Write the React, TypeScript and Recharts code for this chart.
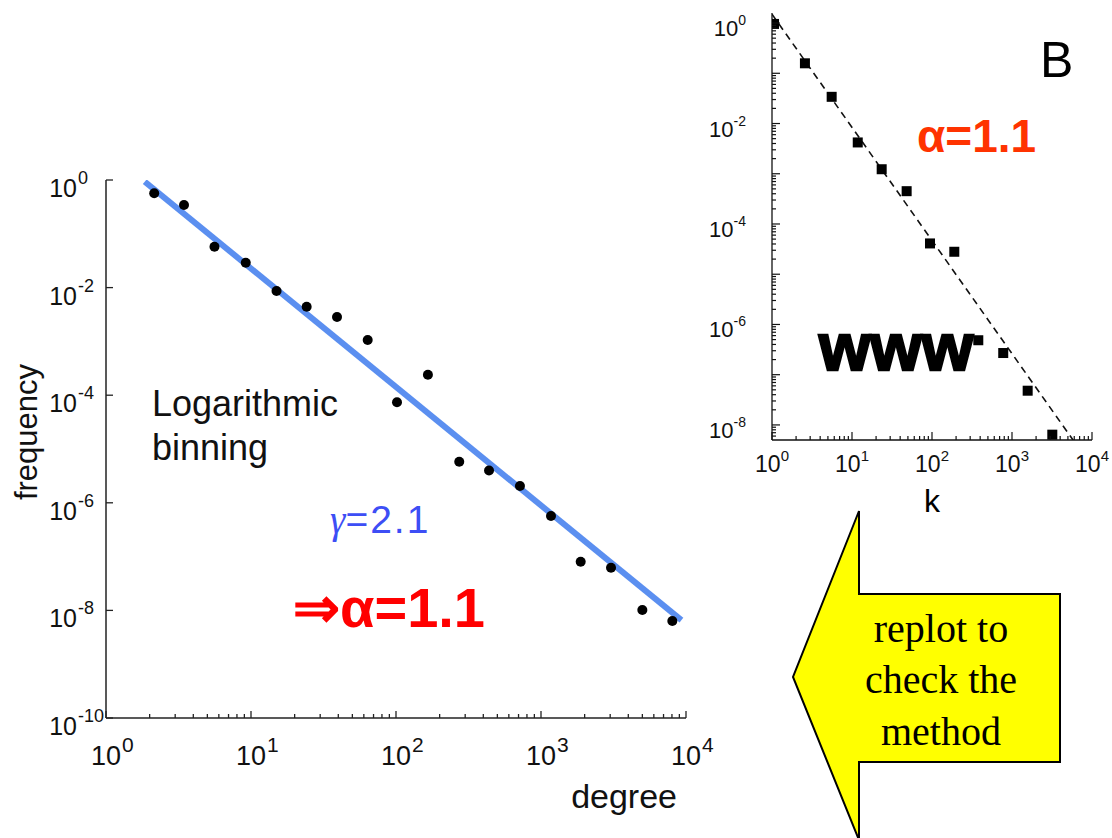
import React from 'react';
import { ScatterChart, Scatter, XAxis, YAxis } from 'recharts';

// left panel: logarithmic binning
const mainDegree = [2.15, 3.45, 5.6, 9.2, 15.0, 24.2, 39.2, 63.8, 101.6, 166, 273, 438, 716, 1172, 1878, 3040, 5000, 8050];
const mainFrequency = [0.566, 0.343, 0.0575, 0.029, 0.00865, 0.00442, 0.00284, 0.00106, 7.4e-5, 2.4e-4, 5.8e-6, 3.97e-6, 2.05e-6, 5.7e-7, 8.05e-8, 6.2e-8, 1.02e-8, 6.35e-9];
const gammaFitDegree = [1.85, 9300];
const gammaFitFrequency = [0.93, 6.6e-9];

// inset: www (panel B)
const wwwK = [1.06, 2.58, 5.57, 11.8, 23.5, 48.2, 94.4, 190, 379, 777, 1570, 3190];
const wwwP = [0.96, 0.158, 0.034, 0.0042, 0.00123, 4.5e-4, 4.1e-5, 2.8e-5, 4.85e-7, 2.7e-7, 4.8e-8, 6.4e-9];
const wwwFitK = [1, 5800];
const wwwFitP = [1.5, 5.0e-9];

// tick labels (powers of ten)
const mainXDecades = [1, 10, 100, 1000, 10000];
const mainYDecades = [1, 1e-2, 1e-4, 1e-6, 1e-8, 1e-10];
const insetXDecades = [1, 10, 100, 1000, 10000];
const insetYDecades = [1, 1e-2, 1e-4, 1e-6, 1e-8];

const withMinors = (lo: number, hi: number, min: number, max: number) => {
  const out: number[] = [];
  for (let e = lo; e <= hi; e++) {
    for (let m = 1; m < 10; m++) {
      const v = m * Math.pow(10, e);
      if (v >= min * 0.999 && v <= max * 1.001) out.push(v);
    }
  }
  return out;
};

const mainXTicks = withMinors(0, 4, 1, 1e4);
const insetXTicks = withMinors(0, 4, 1, 1e4);
const insetYMin = Math.pow(10, -8.3);
const insetYMax = Math.pow(10, 0.2);
const insetYTicks = withMinors(-9, 0, insetYMin, insetYMax);

const mainPoints = mainDegree.map((x, i) => ({ x, y: mainFrequency[i] }));
const mainFit = gammaFitDegree.map((x, i) => ({ x, y: gammaFitFrequency[i] }));
const wwwPoints = wwwK.map((x, i) => ({ x, y: wwwP[i] }));
const wwwFit = wwwFitK.map((x, i) => ({ x, y: wwwFitP[i] }));

const SANS = '"Liberation Sans", Arial, Helvetica, sans-serif';
const SERIF = '"Liberation Serif", "Times New Roman", serif';

const expOf = (v: number) => Math.round(Math.log10(v));
const isDecade = (v: number) => Math.abs(Math.log10(v) - Math.round(Math.log10(v))) < 1e-6;
const inList = (v: number, list: number[]) => list.some((d) => Math.abs(Math.log10(d) - Math.log10(v)) < 1e-6);

const MainXTick = (p: any) => {
  const v = p.payload.value;
  const major = isDecade(v);
  return (
    <g>
      <line x1={p.x} x2={p.x} y1={p.y} y2={p.y - (major ? 7 : 4)} stroke="#222" strokeWidth={1.3} />
      {major && inList(v, mainXDecades) && (
        <>
          <text x={p.x} y={p.y + 47} textAnchor="middle" fontSize={27} fontFamily={SANS} fill="#111">10</text>
          <text x={p.x + 16} y={p.y + 34} fontSize={21} fontFamily={SANS} fill="#111">{expOf(v)}</text>
        </>
      )}
    </g>
  );
};

const MainYTick = (p: any) => {
  const v = p.payload.value;
  return (
    <g>
      <line x1={p.x} x2={p.x + 7} y1={p.y} y2={p.y} stroke="#222" strokeWidth={1.3} />
      <text x={p.x - 29} y={p.y + 17} textAnchor="end" fontSize={25} fontFamily={SANS} fill="#111">10</text>
      <text x={p.x - 28} y={p.y + 4} fontSize={18} fontFamily={SANS} fill="#111">{expOf(v)}</text>
    </g>
  );
};

const InsetXTick = (p: any) => {
  const v = p.payload.value;
  const major = isDecade(v);
  return (
    <g>
      <line x1={p.x} x2={p.x} y1={p.y} y2={p.y - (major ? 8 : 4)} stroke="#111" strokeWidth={1.2} />
      {major && inList(v, insetXDecades) && (
        <text x={p.x} y={p.y + 32} textAnchor="middle" fontSize={23} fontFamily={SANS} fill="#111">
          10<tspan dy={-11} fontSize={15}>{expOf(v)}</tspan>
        </text>
      )}
    </g>
  );
};

const InsetYTick = (p: any) => {
  const v = p.payload.value;
  const major = isDecade(v);
  return (
    <g>
      <line x1={p.x} x2={p.x + (major ? 8 : 4)} y1={p.y} y2={p.y} stroke="#111" strokeWidth={1.2} />
      {major && inList(v, insetYDecades) && (
        <text x={p.x - 26} y={p.y + 13} textAnchor="end" fontSize={22} fontFamily={SANS} fill="#111">
          10<tspan dy={-11} fontSize={14}>{expOf(v)}</tspan>
        </text>
      )}
    </g>
  );
};

const InsetTopTick = (p: any) => {
  const major = isDecade(p.payload.value);
  return <line x1={p.x} x2={p.x} y1={p.y} y2={p.y + (major ? 8 : 4)} stroke="#111" strokeWidth={1.2} />;
};

const InsetRightTick = (p: any) => {
  const major = isDecade(p.payload.value);
  return <line x1={p.x} x2={p.x - (major ? 8 : 4)} y1={p.y} y2={p.y} stroke="#111" strokeWidth={1.2} />;
};

const noShape = () => <g />;

export default function App() {
  return (
    <div style={{ position: 'absolute', left: 0, top: 0, width: 1112, height: 838, background: '#fff', overflow: 'hidden' }}>
      <div style={{ position: 'absolute', left: 0, top: 0 }}>
        <ScatterChart width={720} height={838} margin={{ top: 180, right: 34, bottom: 0, left: 0 }}>
          <XAxis
            type="number"
            dataKey="x"
            scale="log"
            domain={[1, 1e4]}
            allowDataOverflow
            ticks={mainXTicks}
            interval={0}
            height={120}
            tickSize={0}
            tickMargin={0}
            tickLine={false}
            axisLine={{ stroke: '#222', strokeWidth: 1.5 }}
            tick={MainXTick}
          />
          <YAxis
            type="number"
            dataKey="y"
            scale="log"
            domain={[1e-10, 1]}
            allowDataOverflow
            ticks={mainYDecades}
            interval={0}
            width={106}
            tickSize={0}
            tickMargin={0}
            tickLine={false}
            axisLine={{ stroke: '#222', strokeWidth: 1.5 }}
            tick={MainYTick}
          />
          <Scatter
            data={mainFit}
            line={{ stroke: '#5b8ff0', strokeWidth: 6 }}
            shape={noShape}
            isAnimationActive={false}
          />
          <Scatter
            data={mainPoints}
            shape={(p: any) => <circle cx={p.cx} cy={p.cy} r={5} fill="#000" />}
            isAnimationActive={false}
          />
        </ScatterChart>
      </div>

      <div style={{ position: 'absolute', left: 690, top: 0 }}>
        <ScatterChart width={422} height={530} margin={{ top: 13, right: 20, bottom: 0, left: 0 }}>
          <XAxis
            type="number"
            dataKey="x"
            scale="log"
            domain={[1, 1e4]}
            allowDataOverflow
            ticks={insetXTicks}
            interval={0}
            height={90}
            tickSize={0}
            tickMargin={0}
            tickLine={false}
            axisLine={{ stroke: '#111', strokeWidth: 1.3 }}
            tick={InsetXTick}
          />
          <XAxis
            xAxisId="top"
            orientation="top"
            type="number"
            dataKey="x"
            scale="log"
            domain={[1, 1e4]}
            allowDataOverflow
            ticks={insetXTicks}
            interval={0}
            height={0}
            tickSize={0}
            tickMargin={0}
            tickLine={false}
            axisLine={{ stroke: '#111', strokeWidth: 1.3 }}
            tick={InsetTopTick}
          />
          <YAxis
            type="number"
            dataKey="y"
            scale="log"
            domain={[insetYMin, insetYMax]}
            allowDataOverflow
            ticks={insetYTicks}
            interval={0}
            width={82}
            tickSize={0}
            tickMargin={0}
            tickLine={false}
            axisLine={{ stroke: '#111', strokeWidth: 1.3 }}
            tick={InsetYTick}
          />
          <YAxis
            yAxisId="right"
            orientation="right"
            type="number"
            dataKey="y"
            scale="log"
            domain={[insetYMin, insetYMax]}
            allowDataOverflow
            ticks={insetYTicks}
            interval={0}
            width={0}
            tickSize={0}
            tickMargin={0}
            tickLine={false}
            axisLine={{ stroke: '#111', strokeWidth: 1.3 }}
            tick={InsetRightTick}
          />
          <Scatter
            data={wwwFit}
            line={{ stroke: '#111', strokeWidth: 1.6, strokeDasharray: '7 5' }}
            shape={noShape}
            isAnimationActive={false}
          />
          <Scatter
            data={wwwPoints}
            shape={(p: any) => <rect x={p.cx - 5} y={p.cy - 5} width={10} height={10} fill="#000" />}
            isAnimationActive={false}
          />
        </ScatterChart>
      </div>

      <svg width={1112} height={838} style={{ position: 'absolute', left: 0, top: 0, pointerEvents: 'none' }}>
        {/* left panel annotations */}
        <text x={37} y={432} transform="rotate(-90, 37, 432)" textAnchor="middle" fontSize={31} fontFamily={SANS} fill="#111">frequency</text>
        <text x={152} y={416} fontSize={36} fontFamily={SANS} fill="#111">Logarithmic</text>
        <text x={152} y={460} fontSize={36} fontFamily={SANS} fill="#111">binning</text>
        <text x={330} y={533} fontSize={39} fill="#3d4ef5">
          <tspan fontFamily={SERIF} fontStyle="italic">γ</tspan>
          <tspan fontFamily={SANS} letterSpacing={2}>=2.1</tspan>
        </text>
        <text x={293} y={627} fontSize={56} fontWeight="bold" fontFamily={SANS} fill="#ff0000">⇒α=1.1</text>
        <text x={677} y={808} textAnchor="end" fontSize={34} fontFamily={SANS} fill="#111">degree</text>

        {/* inset annotations */}
        <text x={1040} y={77} fontSize={50} fontFamily={SANS} fill="#000">B</text>
        <text x={917} y={152} fontSize={46} fontWeight="bold" fontFamily={SANS} fill="#ff3300">α=1.1</text>
        <text x={819} y={370} fontSize={66} fontWeight="bold" fontFamily={SANS} fill="#000" stroke="#000" strokeWidth={2.5}>www</text>
        <text x={932} y={512} textAnchor="middle" fontSize={32} fontFamily={SANS} fill="#000">k</text>

        {/* yellow arrow */}
        <polygon
          points="859,511 859,594 1060,594 1060,762 859,762 859,840 793,677"
          fill="#ffff00"
          stroke="#000"
          strokeWidth={2}
        />
        <text x={941} y={642} textAnchor="middle" fontSize={40} fontFamily={SERIF} fill="#000">replot to</text>
        <text x={941} y={693} textAnchor="middle" fontSize={40} fontFamily={SERIF} fill="#000">check the</text>
        <text x={941} y={745} textAnchor="middle" fontSize={40} fontFamily={SERIF} fill="#000">method</text>
      </svg>
    </div>
  );
}
